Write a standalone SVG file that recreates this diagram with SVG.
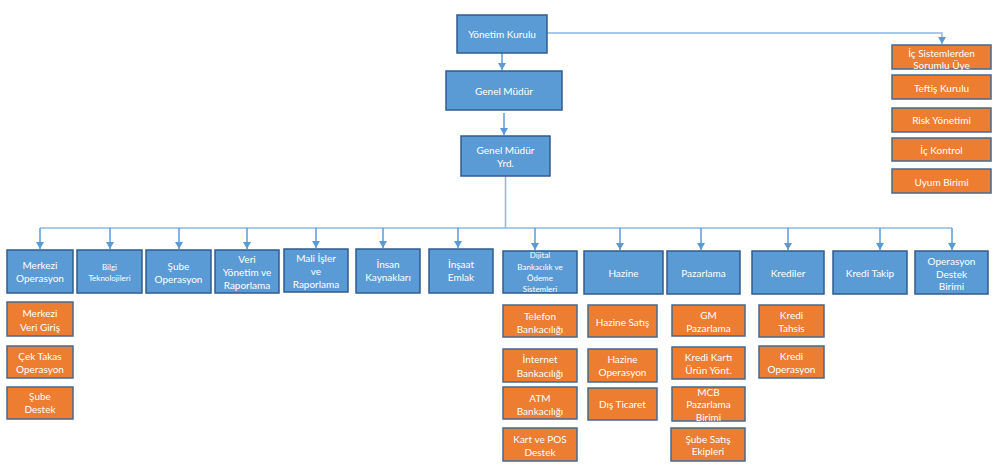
<svg xmlns="http://www.w3.org/2000/svg" width="1000" height="467" viewBox="0 0 1000 467">
<style>
.b{fill:#5B9BD5;stroke:#2F5C8F;stroke-width:1.5}
.o{fill:#ED7D31;stroke:#44698F;stroke-width:1.5}
text{font-family:Lato,"Liberation Sans",sans-serif;fill:#fff;font-size:10px;text-anchor:middle;dominant-baseline:central}
.ot{font-weight:normal}
.s{font-size:8px}
.c{fill:none;stroke:#8CB8E4;stroke-width:1.5}
</style>
<defs>
<marker id="ad" markerUnits="userSpaceOnUse" markerWidth="8" markerHeight="7" refX="4" refY="7" viewBox="0 0 8 7">
<path d="M0,0 L8,0 L4,7 Z" fill="#5B9BD5"/>
</marker>
</defs>
<rect width="1000" height="467" fill="#fff"/>
<g id="connectors">
<path class="c" d="M505.5,176 V228 M40,228 H952"/>
<path class="c" d="M547,33 H942 V44" marker-end="url(#ad)"/>
<g fill="none" stroke="#5B9BD5" stroke-width="1.5" marker-end="url(#ad)">
<path d="M502,53 V70"/>
<path d="M504,113 V135"/>
<path d="M40,228 V249"/>
<path d="M110,228 V249"/>
<path d="M179,228 V249"/>
<path d="M247,228 V249"/>
<path d="M316,228 V248"/>
<path d="M383,228 V248"/>
<path d="M458,228 V248"/>
<path d="M535,228 V250"/>
<path d="M620,228 V250"/>
<path d="M701,228 V250"/>
<path d="M788,228 V250"/>
<path d="M880,228 V250"/>
<path d="M952,228 V250"/>
</g>
</g>
<g id="yonetim-kurulu"><rect class="b" x="457" y="15" width="90" height="38"/><text x="502" y="34">Yönetim Kurulu</text></g>
<g id="genel-mudur"><rect class="b" x="446" y="71" width="116" height="39"/><text x="504" y="91">Genel Müdür</text></g>
<g id="genel-mudur-yrd"><rect class="b" x="461" y="136" width="89" height="40"/><text x="505.5" y="150">Genel Müdür</text><text x="505.5" y="163">Yrd.</text></g>

<g id="ic-sistemlerden"><rect class="o" x="892" y="45" width="99" height="24"/><text class="ot" x="941.5" y="52.5">İç Sistemlerden</text><text class="ot" x="941.5" y="65">Sorumlu Üye</text></g>
<g id="teftis-kurulu"><rect class="o" x="892" y="75" width="99" height="24"/><text class="ot" x="941.5" y="87.5">Teftiş Kurulu</text></g>
<g id="risk-yonetimi"><rect class="o" x="892" y="108" width="99" height="24"/><text class="ot" x="941.5" y="120">Risk Yönetimi</text></g>
<g id="ic-kontrol"><rect class="o" x="892" y="138" width="99" height="23"/><text class="ot" x="941.5" y="150">İç Kontrol</text></g>
<g id="uyum-birimi"><rect class="o" x="892" y="169" width="99" height="24"/><text class="ot" x="941.5" y="182">Uyum Birimi</text></g>

<g id="merkezi-operasyon"><rect class="b" x="7" y="250" width="66" height="43"/><text x="40" y="265">Merkezi</text><text x="40" y="278">Operasyon</text></g>
<g id="bilgi-teknolojileri"><rect class="b" x="77" y="250" width="65" height="43"/><text class="s" x="109.5" y="267">Bilgi</text><text class="s" x="109.5" y="278">Teknolojileri</text></g>
<g id="sube-operasyon"><rect class="b" x="146" y="250" width="65" height="43"/><text x="178.5" y="266">Şube</text><text x="178.5" y="279">Operasyon</text></g>
<g id="veri-yonetim"><rect class="b" x="215" y="250" width="64" height="43"/><text x="247" y="259">Veri</text><text x="247" y="272">Yönetim ve</text><text x="247" y="285">Raporlama</text></g>
<g id="mali-isler"><rect class="b" x="284" y="249" width="64" height="43"/><text x="316" y="258">Mali İşler</text><text x="316" y="271">ve</text><text x="316" y="284">Raporlama</text></g>
<g id="insan-kaynaklari"><rect class="b" x="356" y="249" width="64" height="44"/><text x="388" y="264">İnsan</text><text x="388" y="277">Kaynakları</text></g>
<g id="insaat-emlak"><rect class="b" x="429" y="249" width="64" height="44"/><text x="461" y="264">İnşaat</text><text x="461" y="277">Emlak</text></g>
<g id="dijital"><rect class="b" x="503" y="251" width="74" height="42"/><text class="s" x="540" y="255">Dijital</text><text class="s" x="540" y="266.5">Bankacılık ve</text><text class="s" x="540" y="278">Ödeme</text><text class="s" x="540" y="289">Sistemleri</text></g>
<g id="hazine"><rect class="b" x="584" y="251" width="79" height="43"/><text x="623.5" y="273">Hazine</text></g>
<g id="pazarlama"><rect class="b" x="667" y="251" width="73" height="43"/><text x="703.5" y="273">Pazarlama</text></g>
<g id="krediler"><rect class="b" x="752" y="251" width="72" height="43"/><text x="788" y="273">Krediler</text></g>
<g id="kredi-takip"><rect class="b" x="833" y="251" width="74" height="43"/><text x="870" y="273">Kredi Takip</text></g>
<g id="operasyon-destek"><rect class="b" x="915" y="251" width="73" height="43"/><text x="951.5" y="261">Operasyon</text><text x="951.5" y="273.5">Destek</text><text x="951.5" y="286">Birimi</text></g>

<g id="merkezi-veri-giris"><rect class="o" x="7" y="302" width="66" height="34"/><text class="ot" x="40" y="313">Merkezi</text><text class="ot" x="40" y="326.5">Veri Giriş</text></g>
<g id="cek-takas"><rect class="o" x="7" y="346" width="66" height="32"/><text class="ot" x="40" y="356">Çek Takas</text><text class="ot" x="40" y="369">Operasyon</text></g>
<g id="sube-destek"><rect class="o" x="7" y="387" width="66" height="32"/><text class="ot" x="40" y="396">Şube</text><text class="ot" x="40" y="409">Destek</text></g>

<g id="telefon-bankaciligi"><rect class="o" x="503" y="305" width="74" height="32"/><text class="ot" x="540" y="316">Telefon</text><text class="ot" x="540" y="329">Bankacılığı</text></g>
<g id="internet-bankaciligi"><rect class="o" x="503" y="349" width="74" height="33"/><text class="ot" x="540" y="359">İnternet</text><text class="ot" x="540" y="373">Bankacılığı</text></g>
<g id="atm-bankaciligi"><rect class="o" x="503" y="387" width="74" height="32"/><text class="ot" x="540" y="398">ATM</text><text class="ot" x="540" y="411">Bankacılığı</text></g>
<g id="kart-pos"><rect class="o" x="503" y="428" width="74" height="33"/><text class="ot" x="540" y="439">Kart ve POS</text><text class="ot" x="540" y="452">Destek</text></g>

<g id="hazine-satis"><rect class="o" x="588" y="305" width="69" height="32"/><text class="ot" x="622.5" y="322">Hazine Satış</text></g>
<g id="hazine-operasyon"><rect class="o" x="588" y="349" width="69" height="33"/><text class="ot" x="622.5" y="359">Hazine</text><text class="ot" x="622.5" y="372">Operasyon</text></g>
<g id="dis-ticaret"><rect class="o" x="588" y="388" width="69" height="32"/><text class="ot" x="622.5" y="404">Dış Ticaret</text></g>

<g id="gm-pazarlama"><rect class="o" x="672" y="305" width="73" height="31"/><text class="ot" x="708.5" y="315">GM</text><text class="ot" x="708.5" y="328">Pazarlama</text></g>
<g id="kredi-karti"><rect class="o" x="672" y="347" width="73" height="32"/><text class="ot" x="708.5" y="357">Kredi Kartı</text><text class="ot" x="708.5" y="370">Ürün Yönt.</text></g>
<g id="mcb-pazarlama"><rect class="o" x="672" y="387" width="73" height="34"/><text class="ot" x="708.5" y="392">MCB</text><text class="ot" x="708.5" y="404">Pazarlama</text><text class="ot" x="708.5" y="417">Birimi</text></g>
<g id="sube-satis"><rect class="o" x="671" y="428" width="74" height="33"/><text class="ot" x="708" y="439">Şube Satış</text><text class="ot" x="708" y="451">Ekipleri</text></g>

<g id="kredi-tahsis"><rect class="o" x="759" y="305" width="65" height="32"/><text class="ot" x="791.5" y="315">Kredi</text><text class="ot" x="791.5" y="328">Tahsis</text></g>
<g id="kredi-operasyon"><rect class="o" x="759" y="346" width="65" height="32"/><text class="ot" x="791.5" y="356">Kredi</text><text class="ot" x="791.5" y="369">Operasyon</text></g>
</svg>
